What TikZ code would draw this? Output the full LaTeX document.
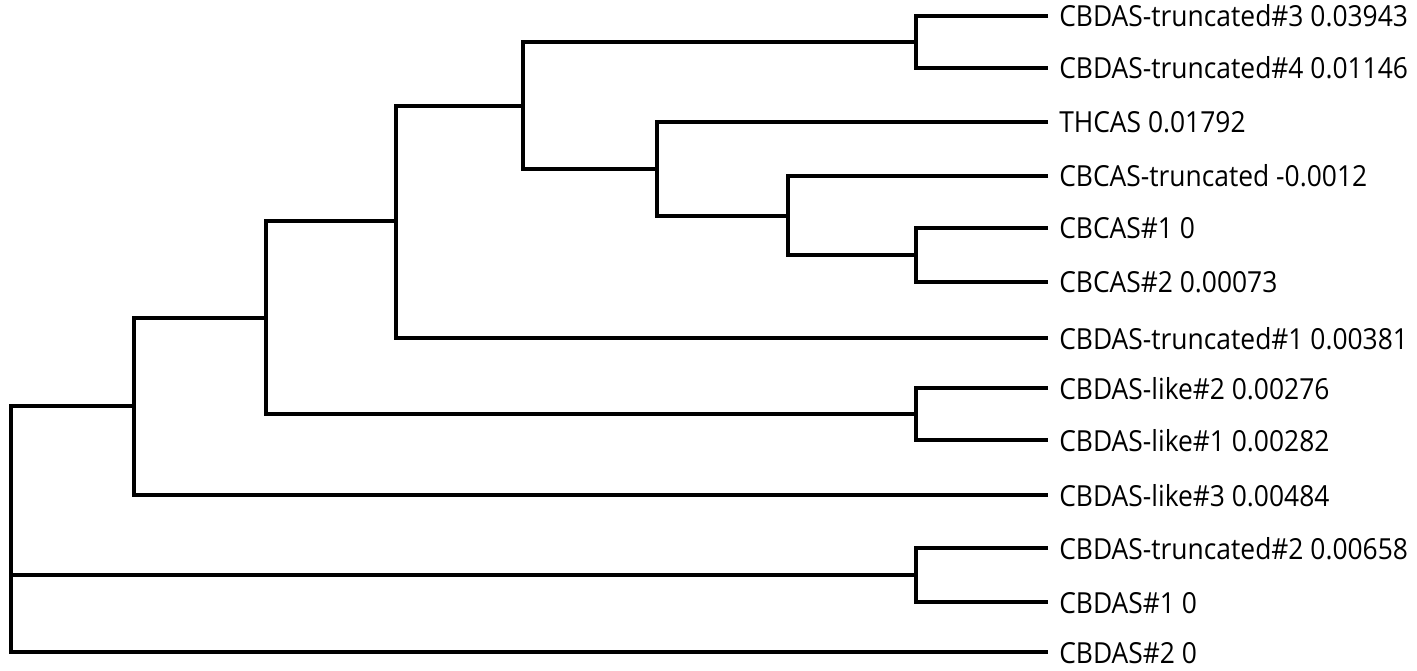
\documentclass[tikz,border=0pt]{standalone}
\usepackage{fontspec}
\setmainfont[FakeStretch=0.91]{Open Sans}
\usetikzlibrary{positioning}

\begin{document}
\begin{tikzpicture}[x=1pt,y=-1pt,line width=4.5pt,
  leaf/.style={anchor=base west,inner sep=0pt,xshift=9pt,yshift=-11pt,font=\fontsize{29}{31}\selectfont}]
  \useasboundingbox (0,0) rectangle (1417,671);
  % leaf ends
  \coordinate (1) at (1048,16);
  \coordinate (2) at (1048,68);
  \coordinate (3) at (1048,122);
  \coordinate (4) at (1048,176);
  \coordinate (5) at (1048,228);
  \coordinate (6) at (1048,282);
  \coordinate (7) at (1048,338);
  \coordinate (8) at (1048,388);
  \coordinate (9) at (1048,440);
  \coordinate (10) at (1048,495);
  \coordinate (11) at (1048,548);
  \coordinate (12) at (1048,602);
  \coordinate (13) at (1048,652);

  % inner nodes
  \coordinate (a) at (916,42);
  \coordinate (c) at (916,255);
  \coordinate (b) at (788,216);
  \coordinate (d) at (657,169);
  \coordinate (e) at (523,106);
  \coordinate (f) at (396,221);
  \coordinate (g) at (916,414);
  \coordinate (h) at (266,318);
  \coordinate (i) at (134,406);
  \coordinate (j) at (916,575);
  \coordinate (r) at (11,575);

  \node[leaf] (t1) at (1) {CBDAS-truncated\#3 0.03943};
  \node[leaf] (t2) at (2) {CBDAS-truncated\#4 0.01146};
  \node[leaf] (t3) at (3) {THCAS 0.01792};
  \node[leaf] (t4) at (4) {CBCAS-truncated -0.0012};
  \node[leaf] (t5) at (5) {CBCAS\#1 0};
  \node[leaf] (t6) at (6) {CBCAS\#2 0.00073};
  \node[leaf] (t7) at (7) {CBDAS-truncated\#1 0.00381};
  \node[leaf] (t8) at (8) {CBDAS-like\#2 0.00276};
  \node[leaf] (t9) at (9) {CBDAS-like\#1 0.00282};
  \node[leaf] (t10) at (10) {CBDAS-like\#3 0.00484};
  \node[leaf] (t11) at (11) {CBDAS-truncated\#2 0.00658};
  \node[leaf] (t12) at (12) {CBDAS\#1 0};
  \node[leaf] (t13) at (13) {CBDAS\#2 0};

  \draw(1)-|(a)|-(2);
  \draw(5)-|(c)|-(6);
  \draw(4)-|(b)|-(c);
  \draw(3)-|(d)|-(b);
  \draw(a)-|(e)|-(d);
  \draw(e)-|(f)|-(7);
  \draw(8)-|(g)|-(9);
  \draw(f)-|(h)|-(g);
  \draw(h)-|(i)|-(10);
  \draw(11)-|(j)|-(12);
  \draw(i)-|(r)|-(13);
  \draw(r)--(j);
\end{tikzpicture}
\end{document}
